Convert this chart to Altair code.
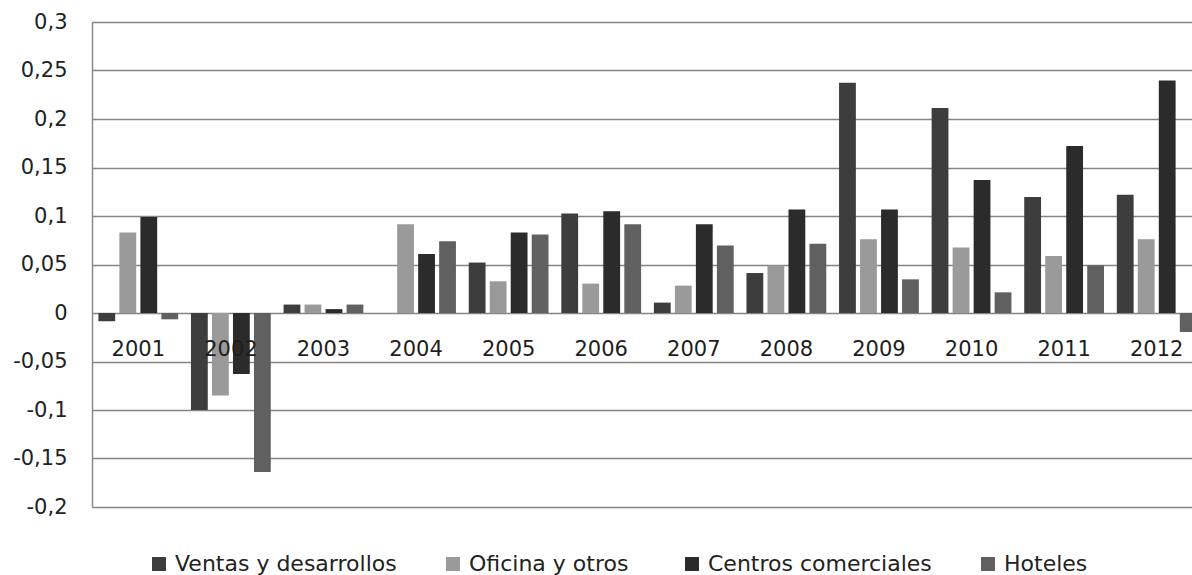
import altair as alt
import pandas as pd

# Annual returns by property segment
years = [str(y) for y in range(2001, 2013)]
series = ["Ventas y desarrollos", "Oficina  y otros", "Centros comerciales", "Hoteles"]
colors = ["#3d3d3d", "#9a9a9a", "#2b2b2b", "#606060"]

ventas = [-0.0085, -0.100, 0.0087, 0.0, 0.052, 0.1025, 0.0107, 0.0412, 0.2375, 0.2113, 0.1196, 0.122]
oficina = [0.083, -0.085, 0.0087, 0.0914, 0.0327, 0.0303, 0.0282, 0.0492, 0.076, 0.0674, 0.0588, 0.076]
centros = [0.099, -0.063, 0.004, 0.0608, 0.0829, 0.1048, 0.0914, 0.1066, 0.1066, 0.1371, 0.1722, 0.2396]
hoteles = [-0.0065, -0.164, 0.0087, 0.0739, 0.0808, 0.0914, 0.0695, 0.0715, 0.0347, 0.0213, 0.0492, -0.0196]

y_ticks = [-0.2, -0.15, -0.1, -0.05, 0, 0.05, 0.1, 0.15, 0.2, 0.25, 0.3]

rows = []
for name, vals in zip(series, [ventas, oficina, centros, hoteles]):
    for yr, v in zip(years, vals):
        rows.append({"year": yr, "serie": name, "value": v})
df = pd.DataFrame(rows)
labels_df = pd.DataFrame({"year": years})

FONT = "DejaVu Sans"

x_scale = alt.Scale(domain=years, range=[0, 1111], paddingInner=0.0927, paddingOuter=0.04635)
y_scale = alt.Scale(domain=[-0.2, 0.3], nice=False, zero=False)

bars = alt.Chart(df).mark_bar().encode(
    x=alt.X("year:N", scale=x_scale, axis=None),
    xOffset=alt.XOffset("serie:N", sort=series,
                        scale=alt.Scale(paddingInner=0.2, paddingOuter=0.1)),
    y=alt.Y("value:Q", scale=y_scale,
            axis=alt.Axis(values=y_ticks, title=None, ticks=False, domain=True,
                          domainColor="#8a8a8a", domainWidth=1.5,
                          grid=True, gridColor="#858585", gridWidth=1.5,
                          labelFont=FONT, labelFontSize=21, labelColor="#222222",
                          labelPadding=25,
                          labelExpr="replace(replace(format(datum.value, '.2~f'), '.', ','), '\u2212', '-')")),
    color=alt.Color("serie:N", sort=series,
                    scale=alt.Scale(domain=series, range=colors),
                    legend=alt.Legend(title=None, orient="none", legendX=56, legendY=531,
                                      direction="horizontal", columns=4,
                                      symbolType="square", symbolSize=196,
                                      symbolStrokeWidth=0, labelOffset=5,
                                      columnPadding=45, padding=0, labelLimit=0,
                                      labelFont=FONT, labelFontSize=22,
                                      labelColor="#222222")),
)

year_labels = alt.Chart(labels_df).mark_text(
    font=FONT, fontSize=21, color="#1e1e1e", baseline="middle", dy=37
).encode(
    x=alt.X("year:N", scale=x_scale, axis=None),
    y=alt.datum(0),
    text="year:N",
)

chart = alt.layer(bars, year_labels).properties(
    width=1100, height=485,
    autosize=alt.AutoSizeParams(type="none"),
    padding={"left": 92, "top": 22, "right": 0, "bottom": 68},
).configure_view(stroke=None).configure(background="white")

chart.save("out.html", embed_options={"renderer": "svg", "actions": False})
